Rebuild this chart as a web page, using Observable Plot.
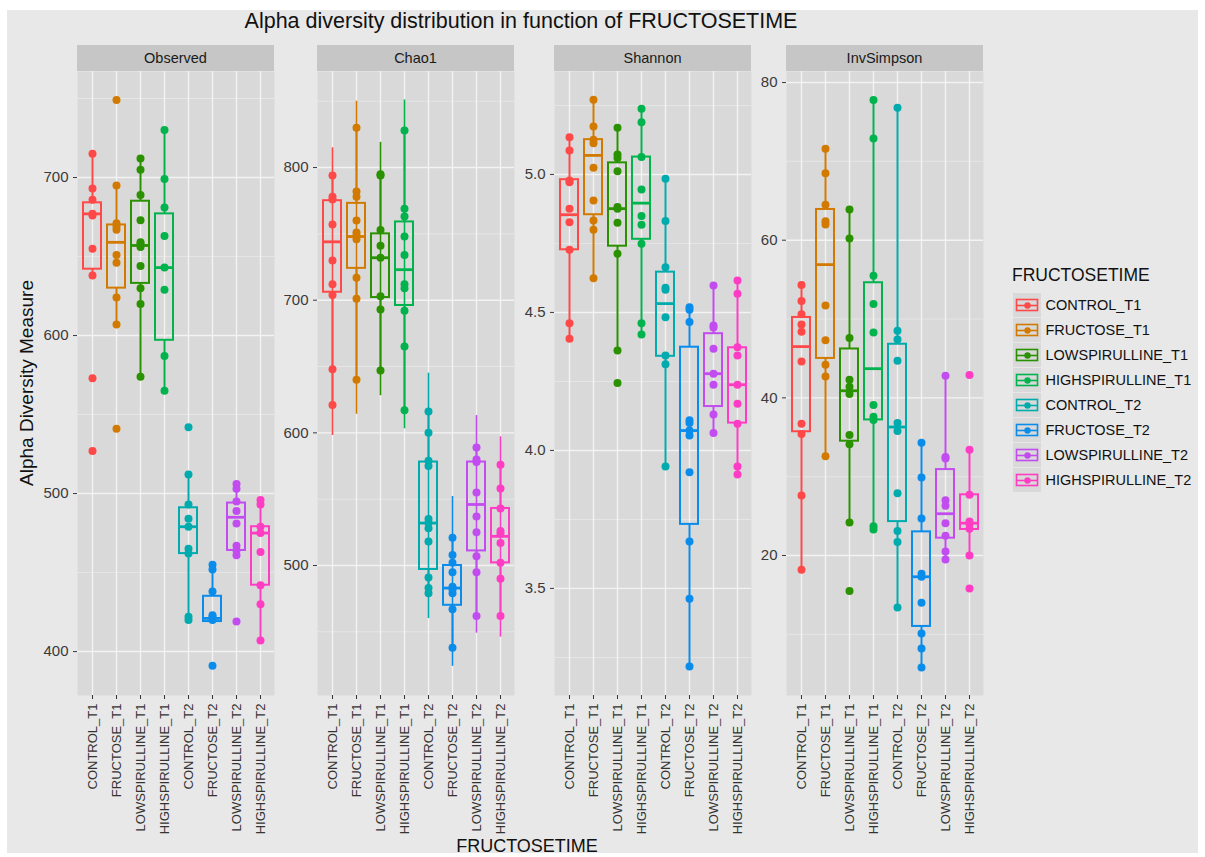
<!DOCTYPE html>
<html>
<head>
<meta charset="utf-8">
<script src="https://cdn.jsdelivr.net/npm/d3@7"></script>
<script src="https://cdn.jsdelivr.net/npm/@observablehq/plot@0.6"></script>
<style>
  html, body { margin: 0; padding: 0; background: #ffffff; }
  #root { position: relative; width: 1205px; height: 857px; overflow: hidden; font-family: "Liberation Sans", Arial, Helvetica, sans-serif; }
  #bg { position: absolute; left: 7px; top: 10px; width: 1191px; height: 843px; background: #E8E8E8; }
  .abs { position: absolute; white-space: nowrap; color: #111; }
  .strip { position: absolute; background: #C6C6C6; color: #1a1a1a; font-size: 14.5px; text-align: center; line-height: 26px; height: 26px; }
</style>
</head>
<body>
<div id="root"><div id="bg"></div></div>
<script>
// ---------------- data ----------------
const groups = ["CONTROL_T1", "FRUCTOSE_T1", "LOWSPIRULLINE_T1", "HIGHSPIRULLINE_T1",
                "CONTROL_T2", "FRUCTOSE_T2", "LOWSPIRULLINE_T2", "HIGHSPIRULLINE_T2"];
const groupColors = ["#FF4848", "#D27A00", "#2A9200", "#00B34C", "#00ABAE", "#0A8CEB", "#C24CF0", "#FF3DC4"];
const metrics = ["Observed", "Chao1", "Shannon", "InvSimpson"];

// points per group (same order as groups)
const observedPts = [
  [715, 693, 686, 677, 676, 655, 638, 573, 527],
  [749, 695, 671, 669, 667, 651, 646, 624, 607, 541],
  [712, 705, 689, 673, 659, 658, 656, 644, 630, 620, 574],
  [730, 699, 681, 663, 643, 629, 587, 565],
  [542, 512, 493, 484, 479, 465, 462, 422, 420],
  [455, 452, 438, 423, 422, 420, 391],
  [506, 503, 495, 489, 481, 467, 464, 461, 419],
  [496, 493, 479, 475, 463, 442, 430, 407]
];
const chao1Pts = [
  [794, 778, 776, 757, 730, 712, 704, 648, 621],
  [830, 782, 778, 760, 751, 749, 746, 717, 701, 640],
  [795, 794, 753, 741, 732, 703, 693, 647],
  [828, 769, 763, 748, 734, 712, 709, 692, 665, 617],
  [616, 600, 579, 575, 535, 532, 528, 518, 491, 483, 479],
  [521, 508, 502, 495, 484, 482, 479, 467, 438],
  [589, 580, 578, 555, 537, 525, 507, 495, 462],
  [576, 558, 543, 526, 524, 517, 502, 490, 462]
];
const shannonPts = [
  [5.135, 5.087, 4.978, 4.972, 4.876, 4.827, 4.727, 4.461, 4.405],
  [5.271, 5.174, 5.126, 5.113, 5.024, 4.906, 4.833, 4.800, 4.624],
  [5.169, 5.072, 5.060, 5.012, 4.882, 4.876, 4.825, 4.713, 4.362, 4.244],
  [5.238, 5.189, 5.063, 4.945, 4.849, 4.818, 4.749, 4.461, 4.420],
  [4.984, 4.831, 4.664, 4.589, 4.582, 4.483, 4.344, 4.312, 3.942],
  [4.519, 4.510, 4.465, 4.109, 4.099, 4.072, 4.054, 3.921, 3.670, 3.463, 3.217],
  [4.598, 4.453, 4.445, 4.368, 4.278, 4.238, 4.130, 4.063],
  [4.616, 4.568, 4.374, 4.344, 4.238, 4.169, 4.097, 3.942, 3.913]
];
const invSimpsonPts = [
  [54.3, 52.3, 50.6, 49.3, 48.4, 44.6, 36.7, 35.4, 27.6, 18.2],
  [71.6, 68.5, 64.5, 62.4, 62.0, 51.7, 47.3, 44.2, 42.7, 32.6],
  [63.9, 60.2, 47.6, 42.3, 41.4, 40.5, 35.3, 34.1, 24.2, 15.5],
  [77.8, 72.9, 55.5, 51.9, 48.3, 39.1, 37.6, 37.2, 23.7, 23.3],
  [76.8, 48.5, 47.4, 44.7, 36.8, 35.8, 27.9, 23.1, 21.7, 13.4],
  [34.3, 29.9, 24.7, 17.7, 17.3, 14.0, 10.1, 8.2, 5.8],
  [42.8, 32.5, 32.3, 27.0, 26.3, 24.1, 22.5, 20.5, 19.5],
  [42.9, 33.4, 27.7, 24.3, 24.0, 23.4, 20.0, 15.8]
];

// box statistics per group: [lower whisker, Q1, median, Q3, upper whisker]
const observedBox = [
  [638, 642, 677, 684, 715], [607, 630, 659, 670, 695], [574, 633, 657, 685, 712], [565, 597, 643, 677, 730],
  [420, 462, 479, 491, 512], [419, 419, 421, 435, 455], [461, 464, 485, 494, 506], [407, 442, 475, 479, 496]
];
const chao1Box = [
  [621, 706, 744, 775, 794], [640, 724, 748, 773, 830], [647, 702, 732, 750, 795], [617, 696, 723, 759, 828],
  [479, 497, 532, 578, 616], [438, 470, 483, 500, 521], [462, 511, 546, 578, 589], [462, 502, 522, 543, 576]
];
const shannonBox = [
  [4.405, 4.727, 4.854, 4.981, 5.135], [4.624, 4.854, 5.069, 5.126, 5.271],
  [4.362, 4.740, 4.876, 5.042, 5.169], [4.420, 4.765, 4.896, 5.063, 5.238],
  [3.942, 4.341, 4.532, 4.646, 4.984], [3.217, 3.732, 4.072, 4.374, 4.519],
  [4.063, 4.159, 4.278, 4.423, 4.598], [3.913, 4.099, 4.238, 4.372, 4.616]
];
const invSimpsonBox = [
  [18.2, 35.7, 46.5, 50.2, 54.3], [32.6, 45.0, 56.9, 63.9, 71.6], [24.2, 34.5, 40.9, 46.2, 63.9], [23.3, 37.2, 43.7, 54.6, 77.8],
  [13.4, 24.3, 36.3, 46.8, 76.8], [5.8, 11.0, 17.3, 23.0, 34.3], [19.5, 22.2, 25.3, 30.9, 42.8], [20.0, 23.3, 24.1, 27.7, 33.4]
];
// Chao1 standard-error bar extents per group: [low, high]
const chao1Err = [
  [598, 815], [614, 850], [628, 819], [603, 851], [460, 645], [424, 552], [449, 613], [446, 597]
];

// axis ticks
const observedTicks = [400, 500, 600, 700];
const chao1Ticks = [500, 600, 700, 800];
const shannonTicks = [3.5, 4.0, 4.5, 5.0];
const invSimpsonTicks = [20, 40, 60, 80];

// ---------------- layout ----------------
const root = document.getElementById("root");
const FONT = '"Liberation Sans", Arial, Helvetica, sans-serif';
const panelTop = 71, panelH = 624, panelW = 197, mL = 46, mB = 150;
const panelLefts = [77, 317, 554, 786];

function add(html, css) {
  const d = document.createElement("div");
  d.className = "abs";
  d.innerHTML = html;
  Object.assign(d.style, css);
  root.appendChild(d);
  return d;
}

function makePanel(idx, name, pts, box, ticks, domain, fmt, err) {
  const ptsRows = groups.flatMap((g, i) => pts[i].map(v => ({g, v})));
  const boxRows = groups.map((g, i) => ({g, lo: box[i][0], q1: box[i][1], med: box[i][2], q3: box[i][3], hi: box[i][4]}));
  const step = ticks[1] - ticks[0];
  const minor = d3.range(ticks[0] - step * 1.5, ticks[ticks.length - 1] + step, step)
    .map(v => +v.toFixed(4)).filter(v => v > domain[0] && v < domain[1]);
  const marks = [
    Plot.frame({fill: "#D9D9D9", stroke: null}),
    Plot.gridY(minor, {stroke: "#E9E9E9", strokeOpacity: 1, strokeWidth: 0.8}),
    Plot.gridY(ticks, {stroke: "#F3F3F3", strokeOpacity: 1, strokeWidth: 1.4}),
    Plot.gridX(groups, {stroke: "#F3F3F3", strokeOpacity: 1, strokeWidth: 1.4}),
    Plot.axisY(ticks, {tickSize: 4, tickPadding: 5, tickFormat: fmt, fontSize: 15, color: "#3a3a3a", label: null}),
    Plot.axisX({tickRotate: -90, tickSize: 4, tickPadding: 4, fontSize: 13, color: "#333", label: null})
  ];
  if (err) {
    const errRows = groups.map((g, i) => ({g, lo: err[i][0], hi: err[i][1]}));
    marks.push(Plot.ruleX(errRows, {x: "g", y1: "lo", y2: "hi", stroke: "g", strokeWidth: 1.6}));
  }
  marks.push(
    Plot.ruleX(boxRows, {x: "g", y1: "lo", y2: "q1", stroke: "g", strokeWidth: 2}),
    Plot.ruleX(boxRows, {x: "g", y1: "q3", y2: "hi", stroke: "g", strokeWidth: 2}),
    Plot.barY(boxRows, {x: "g", y1: "q1", y2: "q3", fill: "none", stroke: "g", strokeWidth: 2}),
    Plot.tickY(boxRows, {x: "g", y: "med", stroke: "g", strokeWidth: 2.8}),
    Plot.dot(ptsRows, {x: "g", y: "v", fill: "g", r: 4})
  );
  const chart = Plot.plot({
    width: mL + panelW, height: panelH + mB,
    marginLeft: mL, marginRight: 0, marginTop: 0, marginBottom: mB,
    style: {background: "transparent", fontFamily: FONT, fontSize: "13px", color: "#333", overflow: "visible"},
    x: {type: "band", domain: groups, paddingInner: 0.25, paddingOuter: 0.225, label: null, axis: null},
    y: {domain, label: null, axis: null},
    color: {domain: groups, range: groupColors},
    marks
  });
  chart.style.position = "absolute";
  chart.style.left = (panelLefts[idx] - mL) + "px";
  chart.style.top = panelTop + "px";
  root.appendChild(chart);
  const s = document.createElement("div");
  s.className = "strip";
  s.textContent = name;
  Object.assign(s.style, {left: panelLefts[idx] + "px", top: (panelTop - 26) + "px", width: panelW + "px"});
  root.appendChild(s);
}

makePanel(0, metrics[0], observedPts, observedBox, observedTicks, [372.2, 767.1], d3.format("d"));
makePanel(1, metrics[1], chao1Pts, chao1Box, chao1Ticks, [402, 872.4], d3.format("d"), chao1Err);
makePanel(2, metrics[2], shannonPts, shannonBox, shannonTicks, [3.112, 5.373], d3.format(".1f"));
makePanel(3, metrics[3], invSimpsonPts, invSimpsonBox, invSimpsonTicks, [2.24, 81.4], d3.format("d"));

// titles
add("Alpha diversity distribution in function of FRUCTOSETIME",
  {left: "521px", top: "9px", transform: "translateX(-50%)", fontSize: "21.5px", color: "#111"});
add("Alpha Diversity Measure",
  {left: "27px", top: "383px", transform: "translate(-50%,-50%) rotate(-90deg)", fontSize: "19px", color: "#111"});
add("FRUCTOSETIME",
  {left: "527px", top: "836px", transform: "translateX(-50%)", fontSize: "18px", color: "#111"});
add("FRUCTOSETIME",
  {left: "1012px", top: "265px", fontSize: "17.5px", color: "#111"});

// legend
const rowH = 25.6;
const legend = Plot.plot({
  width: 190, height: rowH * groups.length,
  margin: 0,
  style: {background: "transparent", fontFamily: FONT, overflow: "visible"},
  x: {domain: [0, 190], range: [0, 190], axis: null},
  y: {type: "band", domain: groups, paddingInner: 0.06, paddingOuter: 0.03, axis: null},
  color: {domain: groups, range: groupColors},
  marks: [
    Plot.barX(groups, {x1: 0, x2: 28, y: d => d, fill: "#D9D9D9"}),
    Plot.ruleX(groups, {x: 14, y: d => d, stroke: d => d, strokeWidth: 1.6, insetTop: 1, insetBottom: 1}),
    Plot.barX(groups, {x1: 3.5, x2: 24.5, y: d => d, fill: "#D9D9D9", stroke: d => d, strokeWidth: 1.6, insetTop: 6.5, insetBottom: 6.5}),
    Plot.ruleY(groups, {y: d => d, x1: 3.5, x2: 24.5, stroke: d => d, strokeWidth: 1.6}),
    Plot.dot(groups, {x: 14, y: d => d, fill: d => d, r: 3.2}),
    Plot.text(groups, {x: 32, y: d => d, text: d => d, textAnchor: "start", fontSize: 14.5, fill: "#111"})
  ]
});
legend.style.position = "absolute";
legend.style.left = "1013px";
legend.style.top = (302.7 - rowH / 2) + "px";
root.appendChild(legend);
</script>
</body>
</html>
